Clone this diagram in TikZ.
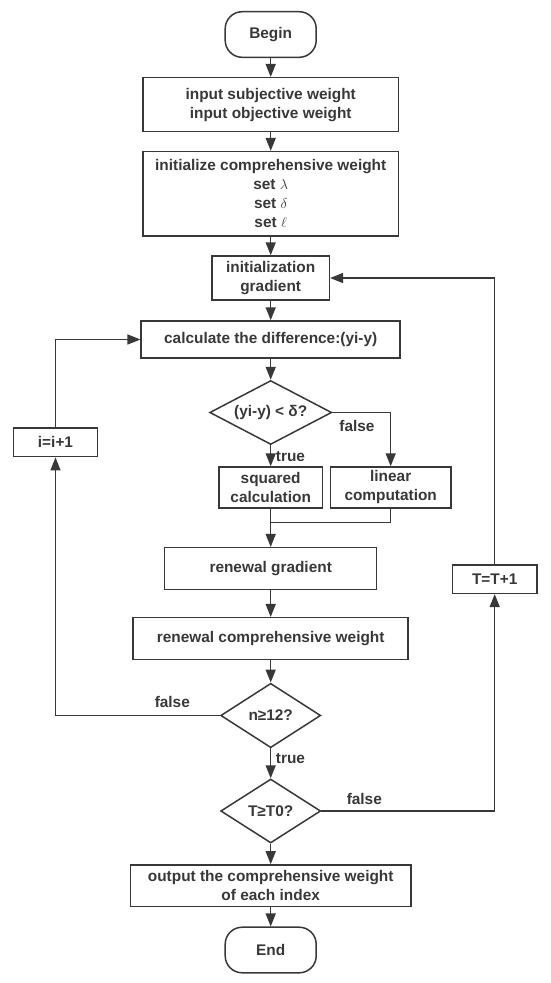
\documentclass[tikz,border=0pt]{standalone}
\usepackage{fontspec}
\setmainfont{Liberation Sans}
\usepackage{tikz}
\usetikzlibrary{shapes.geometric, arrows.meta}
\definecolor{ink}{HTML}{383838}
\tikzset{
    box/.style={draw, rectangle, align=center, inner sep=0pt},
    term/.style={box, rounded corners=17pt, minimum width=91pt, minimum height=45.6pt},
    cond/.style={draw, diamond, align=center, inner sep=0pt},
    lbl/.style={inner sep=0pt},
    arr/.style={-{Triangle[length=13pt, width=10pt]}}
}
\begin{document}
\begin{tikzpicture}[x=1pt, y=-1pt, color=ink, line width=1.5pt,
        font=\fontsize{15.4}{19}\selectfont\bfseries]
            \useasboundingbox (0, 0) rectangle (550, 983);

            \node[term] (begin) at (270.7, 34.5) {Begin};
            \node[box, minimum width=255.3pt, minimum height=54pt] (input) at (270.7, 104.7)
                {input subjective weight\\input objective weight};
            \node[box, minimum width=255.3pt, minimum height=84.3pt] (init) at (270.7, 193.8)
                {initialize comprehensive weight\\set $\lambda$\\set $\delta$\\set $\ell$};
            \node[box, minimum width=117.3pt, minimum height=44pt] (grad) at (270.7, 278)
                {initialization\\gradient};
            \node[box, minimum width=259pt, minimum height=37pt] (calc) at (270.7, 339.5)
                {calculate the difference:(yi-y)};
            \node[cond, aspect=1.9, minimum width=122pt, minimum height=64pt] (diff) at (270.7, 412.5)
                {(yi-y) < δ?};
            \node[box, minimum width=103.3pt, minimum height=41pt] (sq) at (270.7, 487.5)
                {squared\\calculation};
            \node[box, minimum width=120.4pt, minimum height=41pt] (lin) at (390.7, 487.5)
                {linear\\computation};
            \coordinate (join) at (270.7, 522.7);
            \node[box, minimum width=212pt, minimum height=41.6pt] (rg) at (270.7, 568.5)
                {renewal gradient};
            \node[box, minimum width=275pt, minimum height=41.6pt] (rw) at (270.7, 638.5)
                {renewal comprehensive weight};
            \node[cond, aspect=1.56, minimum width=100pt, minimum height=64.4pt] (nchk) at (270.7, 715.5)
                {n≥12?};
            \node[cond, aspect=1.56, minimum width=100pt, minimum height=64pt] (tchk) at (270.7, 811)
                {T≥T0?};
            \node[box, minimum width=280.3pt, minimum height=41.7pt] (out) at (270.7, 885.8)
                {output the comprehensive weight\\of each index};
            \node[term] (end) at (270.7, 950) {End};
            \node[box, minimum width=84.4pt, minimum height=28.7pt] (inc) at (55.5, 442.3) {i=i+1};
            \node[box, minimum width=84.6pt, minimum height=28.3pt] (tinc) at (494.7, 579.2) {T=T+1};

            \node[lbl] (f1) at (357, 426) {false};
            \node[lbl] (t1) at (290.5, 456.5) {true};
            \node[lbl] (f2) at (172.3, 701.7) {false};
            \node[lbl] (t2) at (290.5, 759) {true};
            \node[lbl] (f3) at (364.3, 798.7) {false};

            \draw[arr] (begin) -- (input);
            \draw[arr] (input) -- (init);
            \draw[arr] (init) -- (grad);
            \draw[arr] (grad) -- (calc);
            \draw[arr] (calc) -- (diff);
            \draw[arr] (diff) -- (sq);
            \draw[arr] (diff.east) -| (lin.north);
            \draw (lin.south) |- (join);
            \draw[arr] (sq) -- (rg);
            \draw[arr] (rg) -- (rw);
            \draw[arr] (rw) -- (nchk);
            \draw[arr] (nchk) -- (tchk);
            \draw[arr] (tchk) -- (out);
            \draw[arr] (out) -- (end);
            \draw[arr] (nchk.west) -| (inc.south);
            \draw[arr] (inc.north) |- (calc.west);
            \draw[arr] (tchk.east) -| (tinc.south);
            \draw[arr] (tinc.north) |- (grad.east);
\end{tikzpicture}
\end{document}
